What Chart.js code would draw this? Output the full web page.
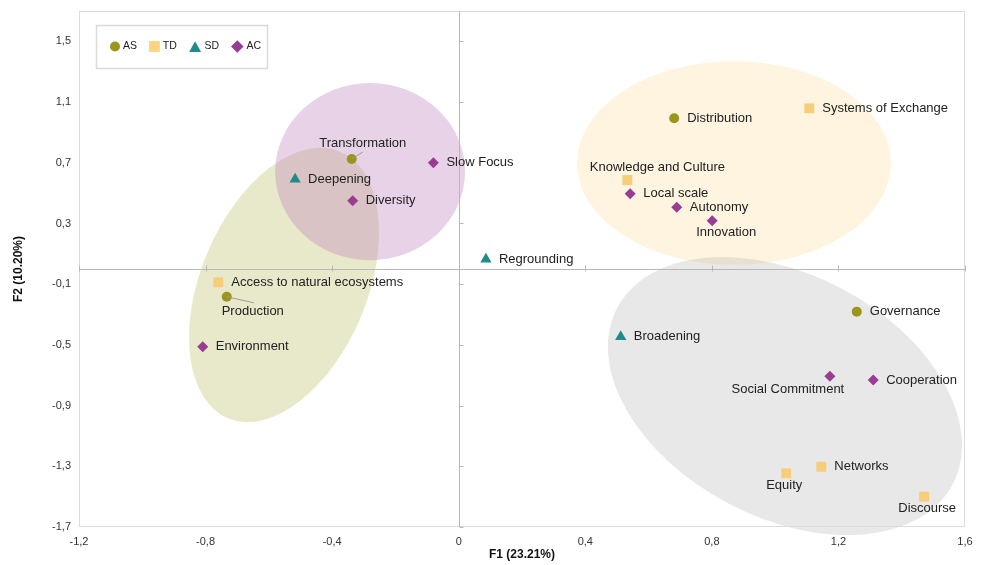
<!DOCTYPE html>
<html>
<head>
<meta charset="utf-8">
<title>F1 / F2 map</title>
<script src="https://cdn.jsdelivr.net/npm/chart.js@4/dist/chart.umd.min.js"></script>
<style>
  html, body { margin: 0; padding: 0; background: #fff; }
  #plot { display: block; }
</style>
</head>
<body>
<canvas id="plot" width="988" height="565"></canvas>
<script>
// ---- data -------------------------------------------------------------
const asNames = ['Transformation', 'Production', 'Distribution', 'Governance'];
const asX = [-0.338, -0.733, 0.681, 1.258];
const asY = [0.725, -0.183, 0.993, -0.281];

const tdNames = ['Access to natural ecosystems', 'Systems of Exchange', 'Knowledge and Culture', 'Networks', 'Equity', 'Discourse'];
const tdX = [-0.760, 1.108, 0.533, 1.146, 1.035, 1.471];
const tdY = [-0.088, 1.059, 0.586, -1.303, -1.346, -1.500];

const sdNames = ['Deepening', 'Regrounding', 'Broadening'];
const sdX = [-0.517, 0.086, 0.512];
const sdY = [0.591, 0.064, -0.446];

const acNames = ['Slow Focus', 'Diversity', 'Environment', 'Local scale', 'Autonomy', 'Innovation', 'Social Commitment', 'Cooperation'];
const acX = [-0.080, -0.335, -0.809, 0.542, 0.689, 0.801, 1.173, 1.310];
const acY = [0.700, 0.450, -0.512, 0.496, 0.407, 0.318, -0.707, -0.731];

const xTicks = [-1.2, -0.8, -0.4, 0, 0.4, 0.8, 1.2, 1.6];
const yTicks = [-1.7, -1.3, -0.9, -0.5, -0.1, 0.3, 0.7, 1.1, 1.5];

// group envelopes: centre in axis units, semi-axes in F1 units, tilt in degrees
const groupRegions = [
  { cx: -0.552, cy: -0.105, a: 0.457, b: 0.263, tilt: -67.2 },
  { cx: -0.280, cy: 0.642, a: 0.300, b: 0.280, tilt: 0 },
  { cx: 0.870, cy: 0.698, a: 0.496, b: 0.322, tilt: 0 },
  { cx: 1.031, cy: -0.837, a: 0.599, b: 0.384, tilt: 27.7 }
];
const regionFills = [
  'rgba(185, 185, 90, 0.32)',
  'rgba(185, 115, 185, 0.32)',
  'rgba(253, 220, 150, 0.30)',
  'rgba(170, 170, 170, 0.27)'
];

// ---- label placement (pixel offsets from the marker) -------------------
const labelPlacement = {
  'Transformation': { dx: 11, dy: -16, align: 'center', leader: [11, -7] },
  'Production': { dx: 26, dy: 15, align: 'center', leader: [27, 6] },
  'Knowledge and Culture': { dx: 30, dy: -13, align: 'center' },
  'Innovation': { dx: 14, dy: 12, align: 'center' },
  'Social Commitment': { dx: -42, dy: 13, align: 'center' },
  'Equity': { dx: -2, dy: 12, align: 'center' },
  'Discourse': { dx: 3, dy: 12, align: 'center' }
};
const defaultPlacement = { dx: 13, dy: 0, align: 'left' };

const FONT = '"Liberation Sans", Arial, Helvetica, sans-serif';
Chart.defaults.font.family = FONT;

const toPoints = (names, xs, ys) => xs.map((x, i) => ({ x: x, y: ys[i], name: names[i] }));
const fmt = v => String(Math.round(v * 10) / 10).replace('.', ',');

// ---- shape helper for the legend ----------------------------------------
function shape(ctx, style, x, y, r) {
  ctx.beginPath();
  if (style === 'circle') {
    ctx.arc(x, y, r, 0, Math.PI * 2);
  } else if (style === 'rect') {
    ctx.rect(x - r, y - r, 2 * r, 2 * r);
  } else if (style === 'triangle') {
    ctx.moveTo(x, y - r);
    ctx.lineTo(x + r * 0.95, y + r * 0.7);
    ctx.lineTo(x - r * 0.95, y + r * 0.7);
    ctx.closePath();
  } else if (style === 'rectRot') {
    ctx.moveTo(x, y - r);
    ctx.lineTo(x + r, y);
    ctx.lineTo(x, y + r);
    ctx.lineTo(x - r, y);
    ctx.closePath();
  }
  ctx.fill();
}

// ---- plugins ------------------------------------------------------------
const backdrop = {
  id: 'backdrop',
  beforeDatasetsDraw(chart) {
    const { ctx, chartArea: area } = chart;
    const sx = chart.scales.x, sy = chart.scales.y;
    const k = area.width / (sx.max - sx.min);

    // envelopes
    groupRegions.forEach((r, i) => {
      ctx.save();
      ctx.translate(sx.getPixelForValue(r.cx), sy.getPixelForValue(r.cy));
      ctx.rotate(r.tilt * Math.PI / 180);
      ctx.beginPath();
      ctx.ellipse(0, 0, r.a * k, r.b * k, 0, 0, Math.PI * 2);
      ctx.fillStyle = regionFills[i];
      ctx.fill();
      ctx.restore();
    });

    // frame
    ctx.save();
    ctx.strokeStyle = '#dcdcdc';
    ctx.lineWidth = 1;
    ctx.strokeRect(Math.round(area.left) + 0.5, Math.round(area.top) + 0.5,
      Math.round(area.width) - 1, Math.round(area.height) - 1);

    // axes through the origin, with small tick marks
    const x0 = Math.round(sx.getPixelForValue(0)) + 0.5;
    const y0 = Math.round(sy.getPixelForValue(0)) + 0.5;
    ctx.strokeStyle = '#b8b8b8';
    ctx.beginPath();
    ctx.moveTo(x0, area.top);
    ctx.lineTo(x0, area.bottom);
    ctx.moveTo(area.left, y0);
    ctx.lineTo(area.right, y0);
    xTicks.forEach(v => {
      const px = Math.round(sx.getPixelForValue(v)) + 0.5;
      ctx.moveTo(px, y0 - 4);
      ctx.lineTo(px, y0 + 2);
    });
    yTicks.forEach(v => {
      const py = Math.round(sy.getPixelForValue(v)) + 0.5;
      ctx.moveTo(x0, py);
      ctx.lineTo(x0 + 4, py);
    });
    ctx.stroke();
    ctx.restore();
  },
  afterDatasetsDraw(chart) {
    const ctx = chart.ctx;
    ctx.save();
    ctx.font = '13px ' + FONT;
    ctx.textBaseline = 'middle';
    chart.data.datasets.forEach((ds, di) => {
      const meta = chart.getDatasetMeta(di);
      meta.data.forEach((pt, i) => {
        const name = ds.data[i].name;
        const p = labelPlacement[name] || defaultPlacement;
        if (p.leader) {
          ctx.strokeStyle = '#9a9a9a';
          ctx.lineWidth = 1;
          ctx.beginPath();
          ctx.moveTo(pt.x, pt.y);
          ctx.lineTo(pt.x + p.leader[0], pt.y + p.leader[1]);
          ctx.stroke();
        }
        ctx.fillStyle = '#222';
        ctx.textAlign = p.align;
        ctx.fillText(name, pt.x + p.dx, pt.y + p.dy);
      });
    });
    ctx.restore();
  },
  afterDraw(chart) {
    // legend box in the upper-left corner of the plot
    const ctx = chart.ctx;
    const area = chart.chartArea;
    const boxL = area.left + 17, boxT = area.top + 14, boxW = 171, boxH = 43;
    ctx.save();
    ctx.strokeStyle = '#dadada';
    ctx.lineWidth = 1.5;
    ctx.strokeRect(boxL + 0.5, boxT + 0.5, boxW, boxH);
    ctx.font = '10.5px ' + FONT;
    ctx.textBaseline = 'middle';
    ctx.textAlign = 'left';
    const cy = boxT + boxH / 2;
    let cursor = boxL + 14;
    chart.data.datasets.forEach(ds => {
      const r = ds.pointStyle === 'circle' ? 5 : (ds.pointStyle === 'rect' ? 5.4 : 6.3);
      const cx = cursor + r;
      ctx.fillStyle = ds.legendColor || ds.backgroundColor;
      shape(ctx, ds.pointStyle, cx, cy + (ds.pointStyle === 'triangle' ? 1 : 0), r);
      ctx.fillStyle = '#222';
      const tx = cx + r + 3;
      ctx.fillText(ds.label, tx, cy);
      cursor = tx + ctx.measureText(ds.label).width + 12;
    });
    ctx.restore();
  }
};

// ---- chart --------------------------------------------------------------
new Chart(document.getElementById('plot').getContext('2d'), {
  type: 'scatter',
  data: {
    datasets: [
      {
        label: 'AS',
        data: toPoints(asNames, asX, asY),
        pointStyle: 'circle',
        pointRadius: 5,
        backgroundColor: '#9b951d',
        borderWidth: 0
      },
      {
        label: 'TD',
        data: toPoints(tdNames, tdX, tdY),
        pointStyle: 'rect',
        pointRadius: 7,
        backgroundColor: '#f6cd78',
        legendColor: '#fdd47f',
        borderWidth: 0
      },
      {
        label: 'SD',
        data: toPoints(sdNames, sdX, sdY),
        pointStyle: 'triangle',
        pointRadius: 6.5,
        backgroundColor: '#1f8c89',
        borderWidth: 0
      },
      {
        label: 'AC',
        data: toPoints(acNames, acX, acY),
        pointStyle: 'rectRot',
        pointRadius: 5.5,
        backgroundColor: '#983c94',
        borderWidth: 0
      }
    ]
  },
  options: {
    responsive: false,
    animation: false,
    layout: { padding: { top: 11, right: 23, left: 0, bottom: 0 } },
    plugins: {
      legend: { display: false },
      tooltip: { enabled: false }
    },
    scales: {
      x: {
        type: 'linear',
        min: -1.2,
        max: 1.6,
        afterBuildTicks: scale => { scale.ticks = xTicks.map(v => ({ value: v })); },
        afterFit: scale => {
          scale.height = 38;
          scale.paddingLeft = 0;
          scale.paddingRight = 0;
        },
        grid: { display: false, drawTicks: false },
        border: { display: false },
        ticks: { padding: 8, color: '#333', font: { size: 11 }, callback: v => fmt(v), maxRotation: 0 },
        title: { display: true, text: 'F1 (23.21%)', color: '#111', font: { size: 12, weight: 'bold' }, padding: { top: 3, bottom: 3 } }
      },
      y: {
        type: 'linear',
        min: -1.7,
        max: 1.7,
        afterBuildTicks: scale => { scale.ticks = yTicks.map(v => ({ value: v })); },
        afterFit: scale => {
          scale.width = 79;
          scale.paddingTop = 0;
          scale.paddingBottom = 0;
        },
        grid: { display: false, drawTicks: false },
        border: { display: false },
        ticks: { padding: 8, color: '#333', font: { size: 11 }, callback: v => fmt(v) },
        title: { display: true, text: 'F2 (10.20%)', color: '#111', font: { size: 12, weight: 'bold' }, padding: { top: 11, bottom: 11 } }
      }
    }
  },
  plugins: [backdrop]
});
</script>
</body>
</html>
